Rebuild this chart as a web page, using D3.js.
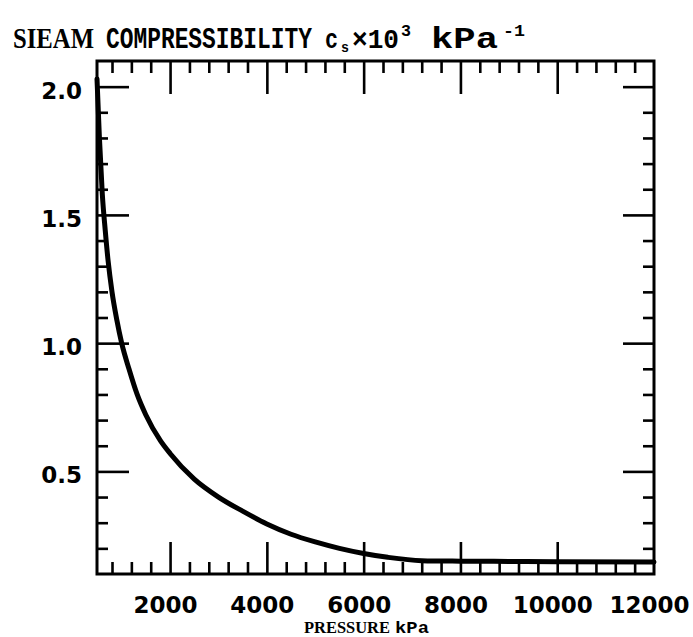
<!DOCTYPE html>
<meta charset="utf-8">
<head>
<style>
  body { margin: 0; background: #fff; }
  .tick line { stroke: #000; stroke-width: 2.6; }
  .domain { display: none; }
</style>
</head>
<body>
<div id="my_dataviz"></div>
<script src="https://d3js.org/d3.v7.min.js"></script>
<script>
// curve: pressure in kPa, compressibility c_s x 10^3 in 1/kPa
const pressure = [490, 540, 600, 660, 720, 800, 900, 1000, 1150, 1320, 1500, 1800, 2000, 2500, 3000, 3500, 4000, 4500, 5000, 5500, 6000, 6500, 7200, 8000, 9000, 10000, 12000];
const compress = [2.03, 1.80, 1.58, 1.44, 1.32, 1.20, 1.09, 1.00, 0.90, 0.80, 0.72, 0.62, 0.57, 0.47, 0.40, 0.345, 0.295, 0.255, 0.225, 0.20, 0.18, 0.165, 0.152, 0.150, 0.149, 0.148, 0.147];

// tick values
const xMajor = [2000, 4000, 6000, 8000, 10000, 12000];
const xMinor = d3.range(800, 12000, 400).filter(v => v % 2000 != 0);
const yMajor = [0.5, 1.0, 1.5, 2.0];
const yMinor = [0.2, 0.3, 0.4, 0.6, 0.7, 0.8, 0.9, 1.1, 1.2, 1.3, 1.4, 1.6, 1.7, 1.8, 1.9];

const W = 693, H = 637;
const frame = {left: 97, right: 654, top: 61, bottom: 574};

const svg = d3.select("#my_dataviz")
  .append("svg")
    .attr("width", W)
    .attr("height", H);

const x = d3.scaleLinear().domain([490, 12000]).range([frame.left, frame.right]);
const y = d3.scaleLinear().domain([0.1, 2.1]).range([frame.bottom, frame.top]);

// ticks on all four sides, pointing inward
function ticks(axisFn, pos, values, size) {
  svg.append("g")
    .attr("transform", pos)
    .call(axisFn.tickValues(values).tickSize(size).tickFormat(""));
}
ticks(d3.axisBottom(x), `translate(0,${frame.top})`, xMinor, 12);
ticks(d3.axisBottom(x), `translate(0,${frame.top})`, xMajor.slice(0, -1), 33);
ticks(d3.axisTop(x), `translate(0,${frame.bottom})`, xMinor, 12);
ticks(d3.axisTop(x), `translate(0,${frame.bottom})`, xMajor.slice(0, -1), 32);
ticks(d3.axisRight(y), `translate(${frame.left},0)`, yMinor, 11);
ticks(d3.axisRight(y), `translate(${frame.left},0)`, yMajor, 32);
ticks(d3.axisLeft(y), `translate(${frame.right},0)`, yMinor, 11);
ticks(d3.axisLeft(y), `translate(${frame.right},0)`, yMajor, 31);

// frame
svg.append("rect")
  .attr("x", frame.left).attr("y", frame.top)
  .attr("width", frame.right - frame.left).attr("height", frame.bottom - frame.top)
  .attr("fill", "none").attr("stroke", "#000").attr("stroke-width", 3);

// tick labels
const xl = svg.append("g")
  .attr("transform", `translate(-5,${frame.bottom + 20})`)
  .call(d3.axisBottom(x).tickValues(xMajor).tickSize(0).tickFormat(d3.format("d")));
xl.selectAll("text")
  .attr("font-family", "DejaVu Sans").attr("font-weight", "bold")
  .attr("font-size", 23).attr("fill", "#000");

const yl = svg.append("g")
  .attr("transform", `translate(${frame.left - 12},4)`)
  .call(d3.axisLeft(y).tickValues(yMajor).tickSize(0).tickFormat(d3.format(".1f")));
yl.selectAll("text")
  .attr("font-family", "DejaVu Sans").attr("font-weight", "bold")
  .attr("font-size", 23).attr("fill", "#000");

// the curve
const line = d3.line()
  .x((d, i) => x(pressure[i]))
  .y(d => y(d))
  .curve(d3.curveMonotoneX);

svg.append("path")
  .datum(compress)
  .attr("d", line)
  .attr("fill", "none")
  .attr("stroke", "#000")
  .attr("stroke-width", 5)
  .attr("stroke-linecap", "round");

// title pieces (mixed serif / typewriter like the scan), each squeezed to its width
const titleParts = [
  {t: "SIEAM", x: 13, y: 48, len: 81, fam: "Liberation Serif", size: 29},
  {t: "COMPRESSIBILITY", x: 106, y: 48, len: 206, fam: "Liberation Mono", size: 29},
  {t: "c", x: 325, y: 48, len: 13, fam: "Liberation Mono", size: 27},
  {t: "s", x: 341, y: 52, len: 8, fam: "Liberation Mono", size: 15},
  {t: "×10", x: 352, y: 48, len: 47, fam: "Liberation Mono", size: 27},
  {t: "3", x: 401, y: 36, len: 10, fam: "Liberation Mono", size: 17},
  {t: "kPa", x: 431, y: 48, len: 67, fam: "Liberation Mono", size: 29},
  {t: "-1", x: 503, y: 36, len: 22, fam: "Liberation Mono", size: 17}
];
function squeezed(parts) {
  parts.forEach(d => {
    const t = svg.append("text")
      .attr("font-family", d.fam).attr("font-size", d.size)
      .attr("font-weight", "bold").attr("fill", "#000")
      .text(d.t);
    const w = t.node().getComputedTextLength();
    t.attr("transform", `translate(${d.x},${d.y}) scale(${d.len / w},1)`);
  });
}
squeezed(titleParts);

// x axis title
squeezed([
  {t: "PRESSURE", x: 304, y: 633, len: 86, fam: "Liberation Serif", size: 17},
  {t: "kPa", x: 395, y: 633, len: 34, fam: "Liberation Mono", size: 17}
]);
</script>
</body>
